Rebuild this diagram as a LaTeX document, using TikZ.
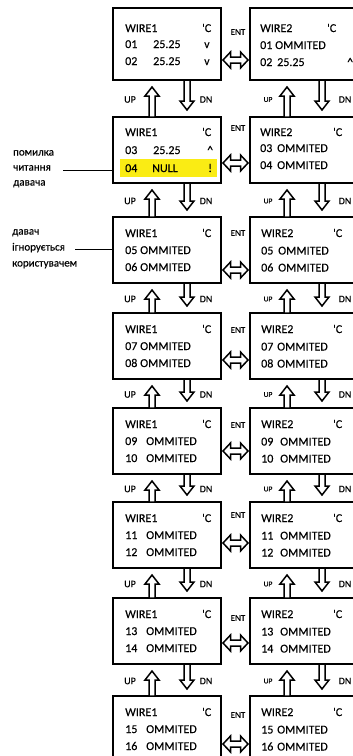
\documentclass[tikz,border=0pt]{standalone}
\usepackage{fontspec}
\setmainfont{Carlito}[FakeBold=0.25]
\definecolor{hl}{RGB}{250,236,20}
\newcommand\UPblk[3]{% x, y of tip, y of tail
  \draw[blk] (#1-3,#3) -- (#1-3,#2+9) -- (#1-7,#2+9) -- (#1,#2) -- (#1+7,#2+9) -- (#1+3,#2+9) -- (#1+3,#3) -- cycle;}
\newcommand\DNblk[3]{% x, y of tail, y of tip
  \draw[blk] (#1-3,#2) -- (#1-3,#3-9) -- (#1-7,#3-9) -- (#1,#3) -- (#1+7,#3-9) -- (#1+3,#3-9) -- (#1+3,#2) -- cycle;}
\newcommand\ENTblk[1]{% y of centre
  \draw[blk] (223,#1) -- (230.5,#1-8) -- (230.5,#1-3) -- (240.5,#1-3) -- (240.5,#1-8) -- (248,#1) -- (240.5,#1+8) -- (240.5,#1+3) -- (230.5,#1+3) -- (230.5,#1+8) -- cycle;}
\begin{document}
\begin{tikzpicture}[x=1pt,y=-1pt,
  bx/.style={draw,line width=1.6pt,inner sep=0,outer sep=0,fill=white},
  lbox/.style={bx,minimum width=108pt},
  rbox/.style={bx,minimum width=112pt},
  txt/.style={anchor=base west,inner sep=0,font=\fontsize{12}{14}\selectfont},
  entl/.style={inner sep=0,font=\fontsize{9}{10}\selectfont},
  lupl/.style={inner sep=0,font=\fontsize{10}{11}\selectfont},
  rupl/.style={inner sep=0,font=\fontsize{7.5}{9}\selectfont},
  ann/.style={anchor=base west,inner sep=0,font=\fontsize{11}{12}\selectfont},
  annline/.style={line width=0.8pt},
  blk/.style={draw,fill=white,line width=1.5pt,line join=miter}]
\useasboundingbox (0,0) rectangle (353,756);
\clip (0,0) rectangle (353,756);
\fill[white] (0,0) rectangle (353,756);

% ---------- box row 1 ----------
\node[lbox,minimum height=72pt] (L1) at (167,44) {};
\node[rbox,minimum height=72pt] (R1) at (306,44) {};
\node[txt] (L1w) at (125,32) {WIRE1};
\node[txt] (L1c) at (202,32) {\textquotesingle C};
\node[txt] (L1a) at (125,48) {01};
\node[txt] (L1av) at (153,48) {25.25};
\node[txt] (L1as) at (204,48) {v};
\node[txt] (L1b) at (125,65) {02};
\node[txt] (L1bv) at (153,65) {25.25};
\node[txt] (L1bs) at (204,65) {v};
\node[txt] (R1w) at (260,32) {WIRE2};
\node[txt] (R1c) at (327,32) {\textquotesingle C};
\node[txt] (R1a) at (260,49) {01};
\node[txt] (R1av) at (275,49) {OMMITED};
\node[txt] (R1b) at (260,66) {02};
\node[txt] (R1bv) at (277,66) {25.25};
\node[txt] (R1bs) at (347,66) {\textasciicircum};
\node[entl] (E1) at (238,32) {ENT};
\ENTblk{60}

% ---------- box row 2 ----------
\node[lbox,minimum height=66pt] (L2) at (167,150) {};
\node[rbox,minimum height=66pt] (R2) at (306,150) {};
\fill[hl] (120,159) rectangle (217,177);
\node[txt] (L2w) at (125,136) {WIRE1};
\node[txt] (L2c) at (202,136) {\textquotesingle C};
\node[txt] (L2a) at (125,154) {03};
\node[txt] (L2av) at (153,154) {25.25};
\node[txt] (L2as) at (207,154) {\textasciicircum};
\node[txt] (L2b) at (125,172) {04};
\node[txt] (L2bv) at (152,172) {NULL};
\node[txt] (L2bs) at (208,172) {!};
\node[txt] (R2w) at (260,136) {WIRE2};
\node[txt] (R2c) at (333,136) {\textquotesingle C};
\node[txt] (R2a) at (260,152) {03};
\node[txt] (R2av) at (277,152) {OMMITED};
\node[txt] (R2b) at (260,169) {04};
\node[txt] (R2bv) at (277,169) {OMMITED};
\node[entl] (E2) at (238,128) {ENT};
\ENTblk{163}

% ---------- box rows 3..8 ----------
\foreach \i/\t/\a/\b/\gl/\gr/\e/\d in {3/217/05/06/140/278/16/53, 4/313/07/08/140/277/17/47, 5/408/09/10/146/280/17/43, 6/502/11/12/146/280/13/41, 7/598/13/14/146/280/20/45, 8/696/15/16/146/277/19/48}{
  \node[lbox,minimum height=66pt] (L\i) at (167,\t+33) {};
  \node[rbox,minimum height=66pt] (R\i) at (306,\t+33) {};
  \node[txt] (L\i w) at (125,\t+20) {WIRE1};
  \node[txt] (L\i c) at (202,\t+20) {\textquotesingle C};
  \node[txt] (L\i a) at (125,\t+37) {\a};
  \node[txt] (L\i av) at (\gl,\t+37) {OMMITED};
  \node[txt] (L\i b) at (125,\t+54) {\b};
  \node[txt] (L\i bv) at (\gl,\t+54) {OMMITED};
  \node[txt] (R\i w) at (261,\t+20) {WIRE2};
  \node[txt] (R\i c) at (333,\t+20) {\textquotesingle C};
  \node[txt] (R\i a) at (261,\t+37.5) {\a};
  \node[txt] (R\i av) at (\gr,\t+37.5) {OMMITED};
  \node[txt] (R\i b) at (261,\t+54.5) {\b};
  \node[txt] (R\i bv) at (\gr,\t+54.5) {OMMITED};
  \node[entl] (E\i) at (238,\t+\e) {ENT};
  \ENTblk{\t+\d}
}

% ---------- UP / DN between rows ----------
\foreach \g/\b/\n in {1/80/117, 2/183/217, 3/283/313, 4/379/408, 5/474/502, 6/568/598, 7/664/696}{
  \UPblk{152}{\b+7}{\n}
  \DNblk{187}{\b}{\n-7}
  \UPblk{287}{\b+7}{\n}
  \DNblk{322}{\b}{\n-7}
  \node[lupl] (LU\g) at (130,{(\b+\n)/2+1}) {UP};
  \node[lupl] (LD\g) at (206,{(\b+\n)/2+1}) {DN};
  \node[rupl] (RU\g) at (268,{(\b+\n)/2+1}) {UP};
  \node[lupl] (RD\g) at (345,{(\b+\n)/2+1}) {DN};
}

% ---------- annotations ----------
\node[ann] (n1a) at (13,155.5) {помилка};
\node[ann] (n1b) at (13,170.5) {читання};
\node[ann] (n1c) at (13,185.5) {давача};
\coordinate (k1) at (63,170);
\draw[annline] (k1) -- (k1 -| L2.west);
\node[ann] (n2a) at (12,234.5) {давач};
\node[ann] (n2b) at (12,250.5) {ігнорується};
\node[ann] (n2c) at (12,266.5) {користувачем};
\coordinate (k2) at (75,249);
\draw[annline] (k2) -- (k2 -| L3.west);
\end{tikzpicture}
\end{document}
